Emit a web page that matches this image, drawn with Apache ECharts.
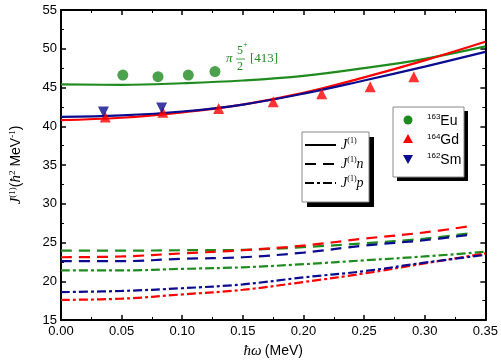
<!DOCTYPE html>
<html><head><meta charset="utf-8">
<script src="https://cdn.jsdelivr.net/npm/echarts@6/dist/echarts.min.js"></script>
<style>html,body{margin:0;padding:0;background:#fff}#c{width:501px;height:364px}</style>
</head><body><div id="c"></div>
<script>
// ---- data ----
const xTicks = [0, 0.05, 0.10, 0.15, 0.20, 0.25, 0.30, 0.35];
const wFull = [0, 0.05, 0.10, 0.15, 0.20, 0.25, 0.30, 0.35];
const wN = [0, 0.05, 0.10, 0.15, 0.20, 0.25, 0.30, 0.337];
// total J(1)
const euTotal = [45.4, 45.35, 45.55, 45.9, 46.5, 47.5, 48.7, 50.3];
const gdTotal = [40.8, 41.1, 41.8, 42.8, 44.3, 46.3, 48.5, 50.9];
const smTotal = [41.2, 41.4, 41.9, 42.8, 44.2, 45.9, 47.7, 49.6];
// neutron J(1)n
const euN = [23.95, 23.95, 24.0, 24.05, 24.4, 24.9, 25.5, 26.2];
const gdN = [23.1, 23.2, 23.6, 24.0, 24.6, 25.5, 26.3, 27.1];
const smN = [22.6, 22.6, 22.9, 23.1, 23.7, 24.6, 25.3, 26.0];
// proton J(1)p
const euP = [21.4, 21.4, 21.6, 21.8, 22.2, 22.7, 23.2, 23.8];
const gdP = [17.6, 17.75, 18.3, 18.9, 19.9, 21.0, 22.3, 23.6];
const smP = [18.6, 18.75, 19.1, 19.6, 20.5, 21.3, 22.4, 23.4];
// experimental points
const euExpW = [0.051, 0.080, 0.105, 0.127];
const euExpJ = [46.6, 46.4, 46.6, 47.05];
const gdExpW = [0.0365, 0.084, 0.130, 0.175, 0.215, 0.255, 0.291];
const gdExpJ = [41.2, 41.8, 42.3, 43.15, 44.2, 45.1, 46.4];
const smExpW = [0.035, 0.083];
const smExpJ = [41.85, 42.35];
const nuclei = ['163Eu', '164Gd', '162Sm'];

const GREEN = '#1f8b1f', RED = '#ff0000', BLUE = '#0b0b8f';
const zip = (a, b) => a.map((v, i) => [v, b[i]]);
const DASH = [11, 7], DASHDOT = [9, 3, 3, 3];

function line(name, xs, ys, color, type) {
  return { name, type: 'line', smooth: 0.4, symbol: 'none', data: zip(xs, ys),
    lineStyle: { color, width: 2.2, type }, z: 3 };
}
function scat(name, xs, ys, color, symbol, rot) {
  return { name, type: 'scatter', data: zip(xs, ys), symbol, symbolSize: 11,
    symbolRotate: rot || 0, itemStyle: { color }, z: 5 };
}

const chart = echarts.init(document.getElementById('c'));
const F = 'Liberation Sans, Arial, sans-serif';
const SERIF = 'Liberation Serif, Times New Roman, serif';
const axisCommon = {
  axisLine: { show: true, onZero: false, lineStyle: { color: '#000', width: 2 } },
  axisTick: { show: true, inside: true, length: 5, lineStyle: { color: '#000', width: 1.5 } },
  minorTick: { show: true, splitNumber: 2, length: 3, lineStyle: { color: '#000', width: 1 } },
  splitLine: { show: false }
};
const option = {
  animation: false,
  grid: { left: 58, right: 14, top: 10, bottom: 42 },
  xAxis: [
    Object.assign({ type: 'value', min: 0, max: 0.35, interval: 0.05, position: 'bottom',
      axisLabel: { color: '#000', fontFamily: F, fontSize: 13, margin: 5,
        formatter: v => v.toFixed(2) },
      name: '{i|ħω} {t|(MeV)}', nameLocation: 'middle', nameGap: 24,
      nameTextStyle: { rich: {
        i: { fontFamily: SERIF, fontStyle: 'italic', fontSize: 15, color: '#000' },
        t: { fontFamily: F, fontSize: 14, color: '#000' } } } }, axisCommon),
    Object.assign({ type: 'value', min: 0, max: 0.35, interval: 0.05, position: 'top',
      axisLabel: { show: false } }, axisCommon)
  ],
  yAxis: [
    Object.assign({ type: 'value', min: 15, max: 55, interval: 5, position: 'left',
      axisLabel: { color: '#000', fontFamily: F, fontSize: 13, margin: 4 },
      name: '{i|J}{s|(1)}{t|(}{i|ħ}{s|2}{t| MeV}{s|-1}{t|)}', nameLocation: 'middle', nameGap: 36, nameRotate: 90,
      nameTextStyle: { rich: {
        i: { fontFamily: SERIF, fontStyle: 'italic', fontSize: 15, color: '#000' },
        s: { fontFamily: SERIF, fontSize: 9, color: '#000', padding: [0, 0, 8, 0] },
        t: { fontFamily: F, fontSize: 14, color: '#000' } } } }, axisCommon),
    Object.assign({ type: 'value', min: 15, max: 55, interval: 5, position: 'right',
      axisLabel: { show: false } }, axisCommon)
  ],
  series: [
    line('Eu J', wFull, euTotal, GREEN, 'solid'),
    line('Gd J', wFull, gdTotal, RED, 'solid'),
    line('Sm J', wFull, smTotal, BLUE, 'solid'),
    line('Eu Jn', wN, euN, GREEN, DASH),
    line('Gd Jn', wN, gdN, RED, DASH),
    line('Sm Jn', wN, smN, BLUE, DASH),
    line('Eu Jp', wFull, euP, GREEN, DASHDOT),
    line('Gd Jp', wFull, gdP, RED, DASHDOT),
    line('Sm Jp', wFull, smP, BLUE, DASHDOT),
    scat(nuclei[0], euExpW, euExpJ, GREEN, 'circle'),
    scat(nuclei[1], gdExpW, gdExpJ, RED, 'triangle'),
    scat(nuclei[2], smExpW, smExpJ, BLUE, 'triangle', 180)
  ],
  graphic: [
    // line-style legend box
    { type: 'rect', shape: { x: 307, y: 137, width: 67, height: 70 }, style: { fill: '#000' }, z: 10 },
    { type: 'rect', shape: { x: 302, y: 132, width: 67, height: 70 }, style: { fill: '#fff', stroke: '#888', lineWidth: 1 }, z: 11 },
    { type: 'line', shape: { x1: 305, y1: 145, x2: 336, y2: 145 }, style: { stroke: '#000', lineWidth: 2 }, z: 12 },
    { type: 'line', shape: { x1: 305, y1: 164, x2: 336, y2: 164 }, style: { stroke: '#000', lineWidth: 2, lineDash: DASH }, z: 12 },
    { type: 'line', shape: { x1: 305, y1: 183, x2: 336, y2: 183 }, style: { stroke: '#000', lineWidth: 2, lineDash: DASHDOT }, z: 12 },
    ...['', 'n', 'p'].map((s, k) => ({ type: 'text', x: 341, y: 145 + 19 * k, z: 12,
      style: { text: '{i|J}{s|(1)}' + (s ? '{i|' + s + '}' : ''), verticalAlign: 'middle',
        rich: { i: { fontFamily: SERIF, fontStyle: 'italic', fontSize: 14, fill: '#000' },
                s: { fontFamily: SERIF, fontSize: 8, fill: '#000', padding: [0, 0, 8, 0] } } } })),
    // nucleus legend box
    { type: 'rect', shape: { x: 397, y: 111, width: 71, height: 70 }, style: { fill: '#000' }, z: 10 },
    { type: 'rect', shape: { x: 393, y: 107, width: 71, height: 70 }, style: { fill: '#fff', stroke: '#888', lineWidth: 1 }, z: 11 },
    { type: 'circle', shape: { cx: 408, cy: 120, r: 4.5 }, style: { fill: GREEN }, z: 12 },
    { type: 'polygon', shape: { points: [[408, 134], [403, 143], [413, 143]] }, style: { fill: RED }, z: 12 },
    { type: 'polygon', shape: { points: [[403, 155], [413, 155], [408, 164]] }, style: { fill: BLUE }, z: 12 },
    ...[['163', 'Eu'], ['164', 'Gd'], ['162', 'Sm']].map((p, k) => ({ type: 'text', x: 427, y: 121 + 19.5 * k, z: 12,
      style: { text: '{s|' + p[0] + '}{t|' + p[1] + '}', verticalAlign: 'middle',
        rich: { t: { fontFamily: F, fontSize: 14, fill: '#000' },
                s: { fontFamily: F, fontSize: 8, fill: '#000', padding: [0, 0, 8, 0] } } } })),
    // annotation pi 5+/2 [413]
    { type: 'text', x: 226, y: 59, z: 12, style: { text: 'π', fontFamily: SERIF, fontStyle: 'italic', fontSize: 13, fill: GREEN, verticalAlign: 'middle' } },
    { type: 'text', x: 237, y: 51, z: 12, style: { text: '5', fontFamily: SERIF, fontSize: 12, fill: GREEN, verticalAlign: 'middle' } },
    { type: 'text', x: 243, y: 45, z: 12, style: { text: '+', fontFamily: SERIF, fontSize: 8, fill: GREEN, verticalAlign: 'middle' } },
    { type: 'line', shape: { x1: 236, y1: 59, x2: 245, y2: 59 }, style: { stroke: GREEN, lineWidth: 0.8 }, z: 12 },
    { type: 'text', x: 237, y: 67, z: 12, style: { text: '2', fontFamily: SERIF, fontSize: 12, fill: GREEN, verticalAlign: 'middle' } },
    { type: 'text', x: 250, y: 59, z: 12, style: { text: '[413]', fontFamily: SERIF, fontSize: 13, fill: GREEN, verticalAlign: 'middle' } }
  ]
};
chart.setOption(option);
</script></body></html>
